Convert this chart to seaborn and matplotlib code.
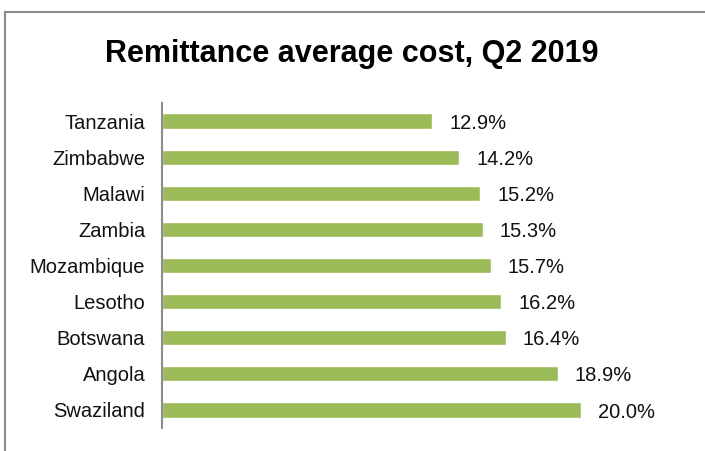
import matplotlib
matplotlib.use("Agg")
import matplotlib.pyplot as plt
import matplotlib.patches as mpatches
import seaborn as sns
import pandas as pd

countries = ["Tanzania", "Zimbabwe", "Malawi", "Zambia", "Mozambique",
             "Lesotho", "Botswana", "Angola", "Swaziland"]
cost_pct = [12.9, 14.2, 15.2, 15.3, 15.7, 16.2, 16.4, 18.9, 20.0]

df = pd.DataFrame({"country": countries, "cost": cost_pct})

sns.set_theme(style="white")
plt.rcParams["font.family"] = ["Liberation Sans", "DejaVu Sans"]

W, H = 705, 451
fig = plt.figure(figsize=(W / 100, H / 100), dpi=100)

# outer frame around the chart
frame = mpatches.Rectangle((5 / W, -0.05), 1.2, 1 - 12 / H + 0.05,
                           transform=fig.transFigure, fill=False,
                           edgecolor="#8c8c8c", linewidth=1.5)
fig.patches.append(frame)

ax = fig.add_axes([162 / W, 1 - 428 / H, (690 - 162) / W, (428 - 103) / H])
sns.barplot(data=df, x="cost", y="country", orient="h", color="#9BBB59",
            width=0.42, saturation=1, ax=ax)

ax.set_xlim(0, (690 - 162) / 20.95)
ax.set_ylim(len(countries) - 0.5, -0.5)

for i, v in enumerate(cost_pct):
    ax.text(v + 0.8, i + 0.06, f"{v:.1f}%", va="center", ha="left",
            fontsize=14.5, color="#111111")

ax.set_xlabel("")
ax.set_ylabel("")
ax.set_xticks([])
ax.tick_params(axis="y", length=0, pad=12, labelsize=14.5, labelcolor="#111111")
for side in ["top", "right", "bottom"]:
    ax.spines[side].set_visible(False)
ax.spines["left"].set_color("#8c8c8c")
ax.spines["left"].set_linewidth(1.5)

fig.text(352 / W, 1 - 54 / H, "Remittance average cost, Q2 2019",
         ha="center", va="center", fontsize=22, fontweight="bold",
         color="#000000")

fig.savefig("out.png", dpi=100, facecolor="white")
